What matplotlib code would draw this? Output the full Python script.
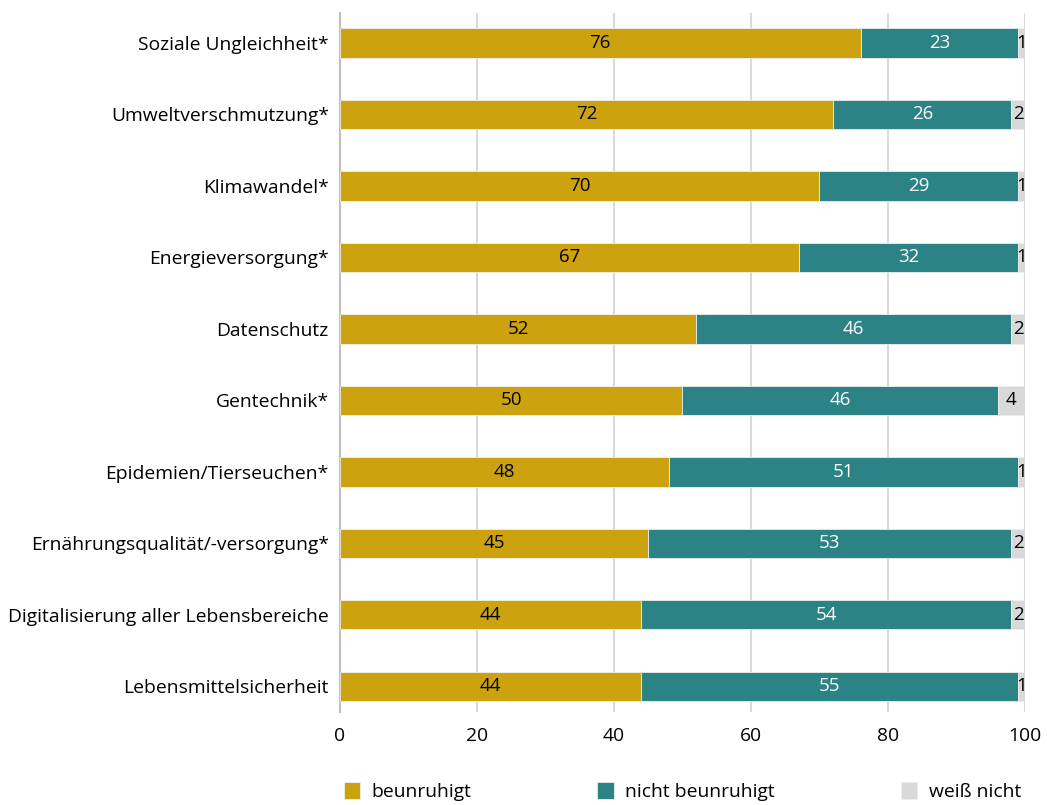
import matplotlib.pyplot as plt
import numpy as np

plt.rcParams['font.family'] = ['Open Sans', 'DejaVu Sans']

categories = ['Soziale Ungleichheit*', 'Umweltverschmutzung*', 'Klimawandel*',
              'Energieversorgung*', 'Datenschutz', 'Gentechnik*',
              'Epidemien/Tierseuchen*', 'Ernährungsqualität/-versorgung*',
              'Digitalisierung aller Lebensbereiche', 'Lebensmittelsicherheit']
beunruhigt = [76, 72, 70, 67, 52, 50, 48, 45, 44, 44]
nicht_beunruhigt = [23, 26, 29, 32, 46, 46, 51, 53, 54, 55]
weiss_nicht = [1, 2, 1, 1, 2, 4, 1, 2, 2, 1]

series = [('beunruhigt', beunruhigt, '#CCA30F', 'black'),
          ('nicht beunruhigt', nicht_beunruhigt, '#2B8385', 'white'),
          ('weiß nicht', weiss_nicht, '#D9D9D9', 'black')]

fig = plt.figure(figsize=(10.47, 8.05), dpi=100)
ax = fig.add_axes([0.3247, 0.1155, 0.6543, 0.8684])

y = np.arange(len(categories))
left = np.zeros(len(categories))
for name, vals, col, tcol in series:
    vals = np.array(vals, dtype=float)
    bars = ax.barh(y, vals, left=left, height=0.41, color=col, label=name,
                   edgecolor='#EDEDED', linewidth=0.6, zorder=3)
    ax.bar_label(bars, labels=[str(int(v)) for v in vals], label_type='center',
                 color=tcol, fontsize=13.5, zorder=4)
    left += vals

ax.set_ylim(9.36, -0.42)
ax.set_xlim(0, 100)
ax.set_xticks([0, 20, 40, 60, 80, 100])
ax.set_yticks(y)
ax.set_yticklabels(categories, fontsize=13.9)
ax.tick_params(axis='x', labelsize=13.9, length=0, pad=11)
ax.tick_params(axis='y', length=0, pad=8)
ax.xaxis.grid(True, color='#D9D9D9', linewidth=1.5, zorder=0)
for s in ['top', 'right', 'bottom']:
    ax.spines[s].set_visible(False)
ax.spines['left'].set_color('#BFBFBF')
ax.spines['left'].set_linewidth(1.5)
ax.set_axisbelow(True)

fig.legend(loc='lower left', bbox_to_anchor=(0.3247, 0.0, 0.6543, 0.045),
           mode='expand', ncol=3, frameon=False, fontsize=13.9,
           handlelength=0.85, handleheight=1.0, handletextpad=0.6,
           borderaxespad=0, borderpad=0.2)

fig.savefig('out.png', dpi=100)
